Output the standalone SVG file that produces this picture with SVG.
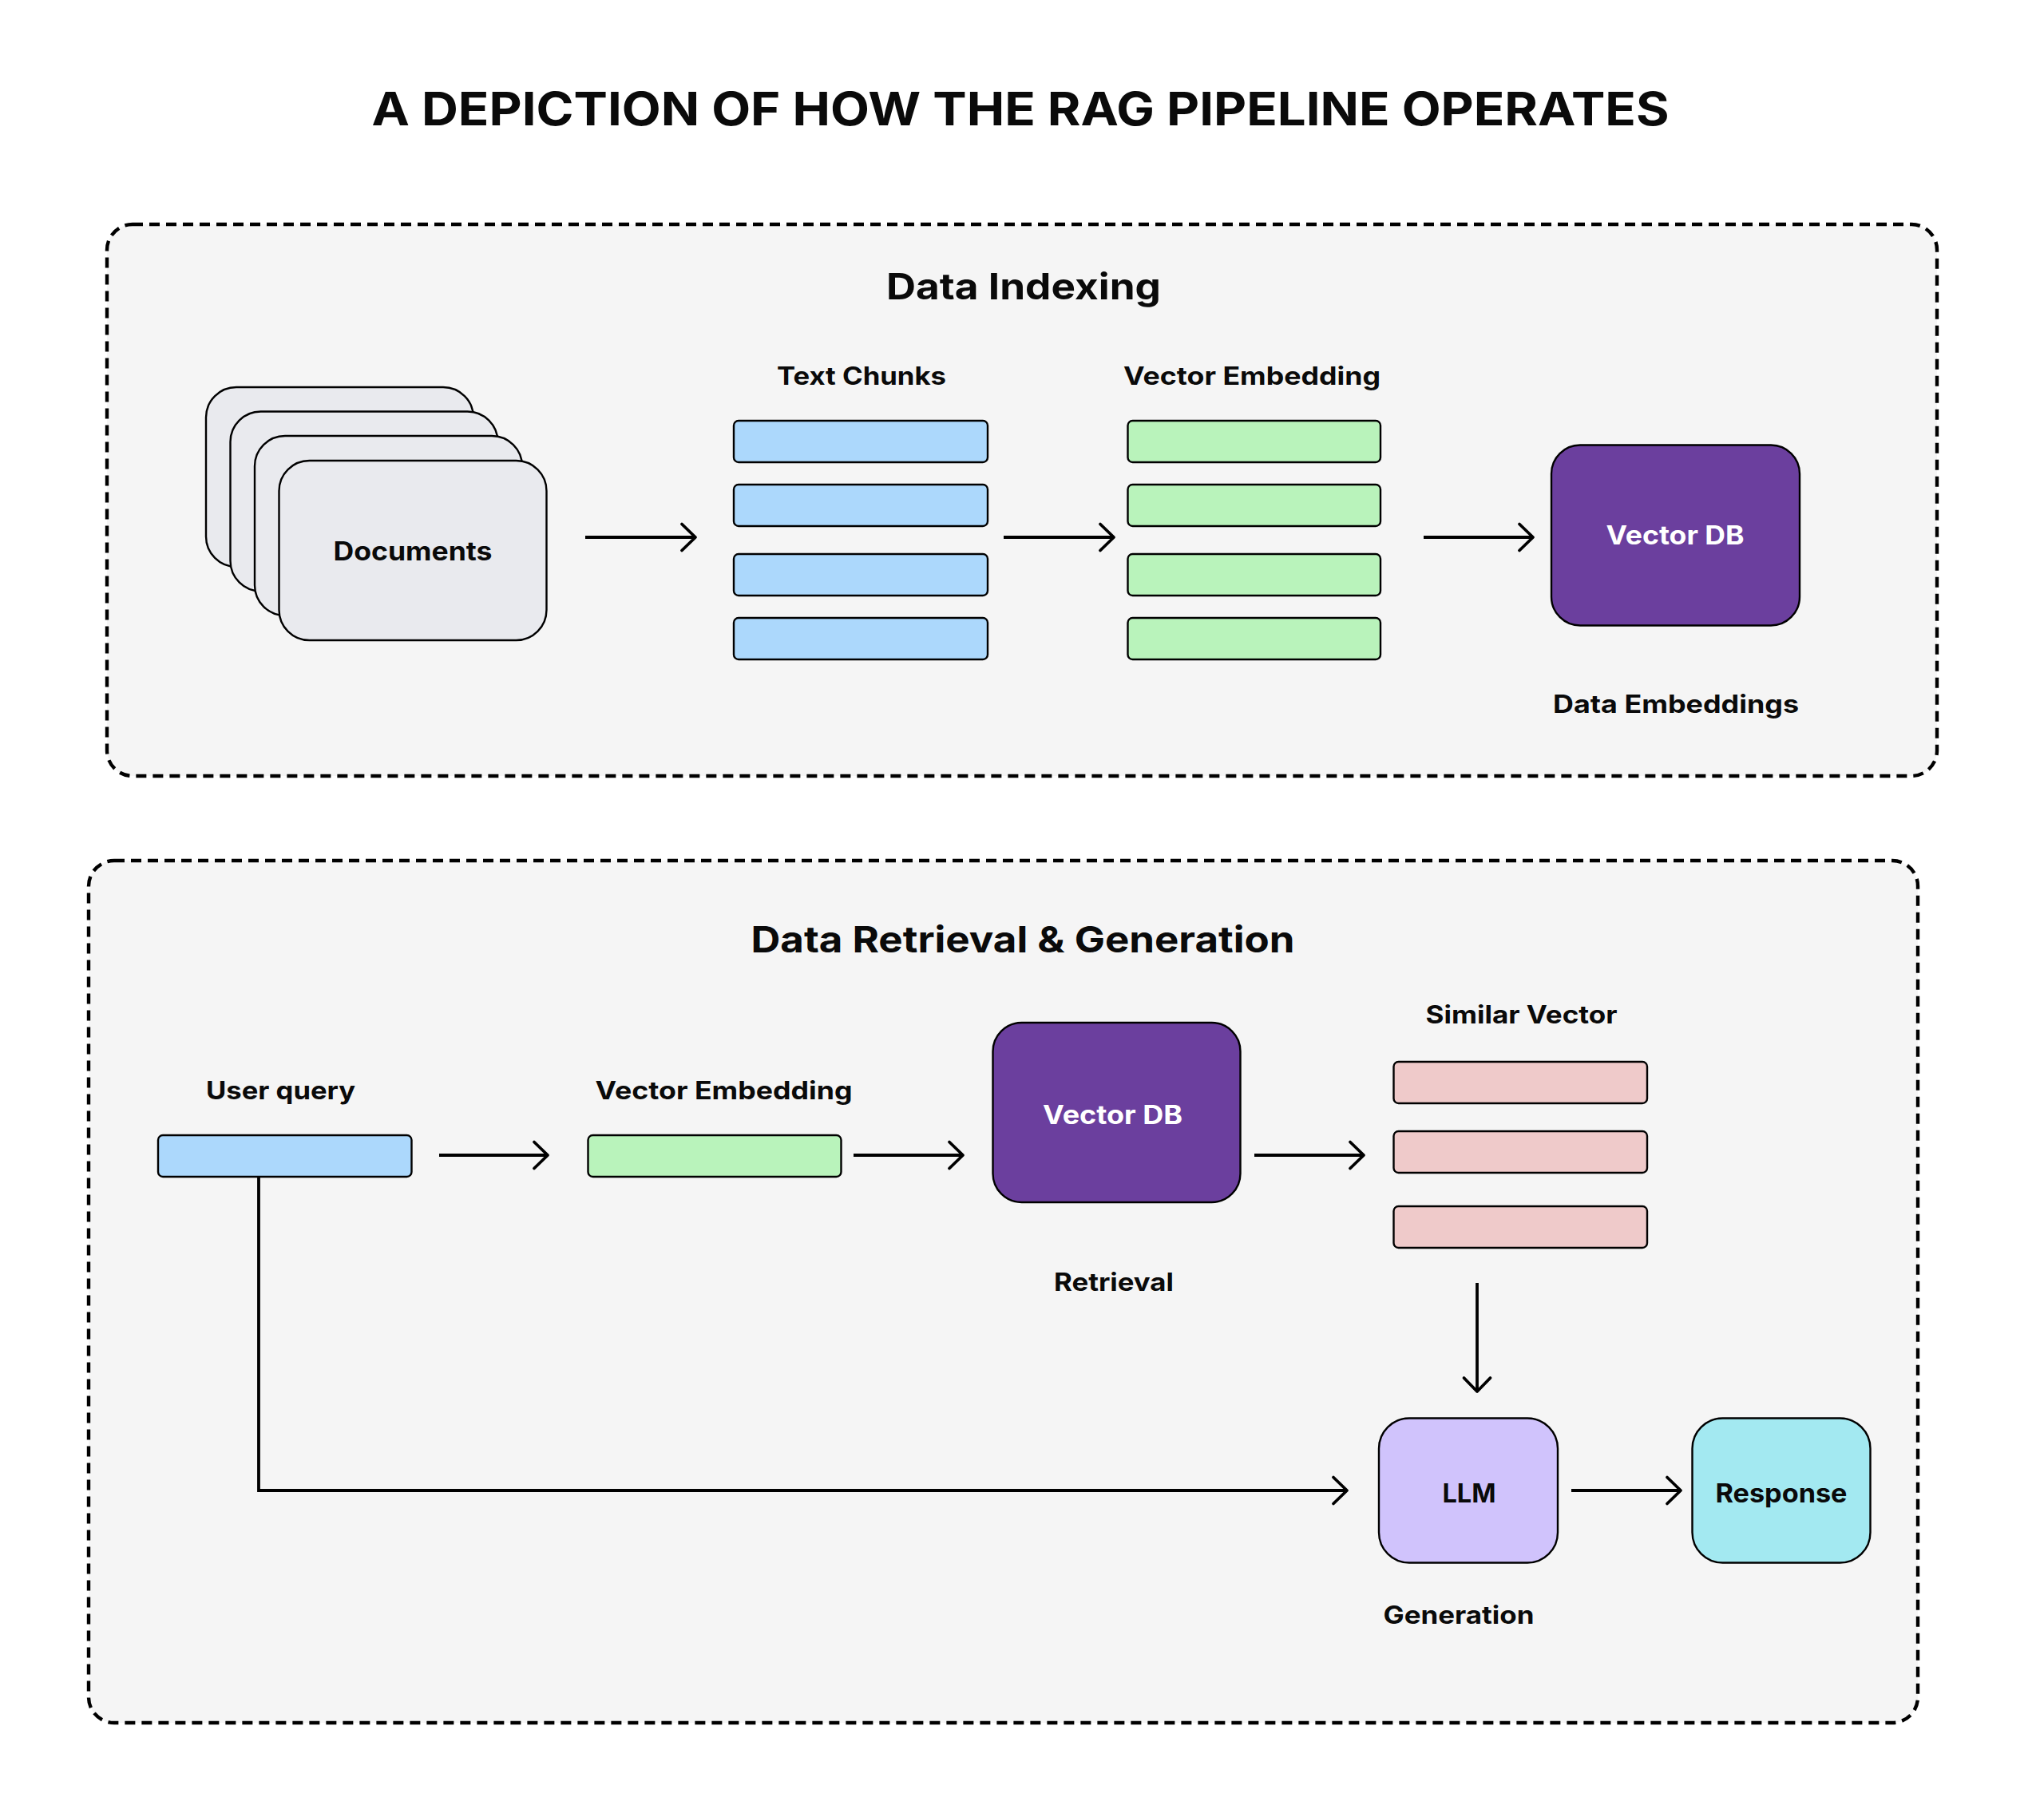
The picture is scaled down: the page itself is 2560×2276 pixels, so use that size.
<svg xmlns="http://www.w3.org/2000/svg" width="2560" height="2276" viewBox="0 0 2560 2276">
  <defs>
    <marker id="arrow" markerUnits="userSpaceOnUse" markerWidth="26" markerHeight="40" refX="20" refY="18" orient="auto" overflow="visible">
      <path d="M3,1.5 L20,18 L3,34.5" fill="none" stroke="#000" stroke-width="3.8" stroke-linecap="round" stroke-linejoin="round"/>
    </marker>
    <style>
      text { font-family: Inter, "Noto Sans", "Liberation Sans", sans-serif; font-weight: 700; fill: #0a0a0a; text-anchor: middle; }
      .title { font-size: 58px; }
      .section { font-size: 45px; }
      .label { font-size: 31px; }
      .inbox { font-size: 32px; }
      .white { fill: #ffffff; }
      .panel { fill: #f5f5f5; stroke: #000; stroke-width: 4.4; stroke-dasharray: 13 8; }
      .node { stroke: #000; stroke-width: 2.4; }
      .doc { fill: #e9eaee; }
      .blue { fill: #acd8fc; }
      .green { fill: #b9f3bb; }
      .pink { fill: #efcaca; }
      .purple { fill: #6b3f9e; }
      .llm { fill: #d0c3fc; }
      .resp { fill: #a3e9f1; }
      .conn { fill: none; stroke: #000; stroke-width: 3.8; marker-end: url(#arrow); }
    </style>
  </defs>

  <rect x="0" y="0" width="2560" height="2276" fill="#ffffff"/>

  <text class="title" x="1278" y="157" textLength="1625" lengthAdjust="spacingAndGlyphs">A DEPICTION OF HOW THE RAG PIPELINE OPERATES</text>

  <!-- Panel 1: Data Indexing -->
  <g id="panel-indexing">
    <rect class="panel" x="134" y="281" width="2292" height="691" rx="32" ry="32"/>
    <text class="section" x="1282" y="375" textLength="344" lengthAdjust="spacingAndGlyphs">Data Indexing</text>
  </g>

  <!-- Panel 2: Data Retrieval & Generation -->
  <g id="panel-retrieval">
    <rect class="panel" x="111" y="1078" width="2291" height="1080" rx="32" ry="32"/>
    <text class="section" x="1281" y="1193" textLength="681" lengthAdjust="spacingAndGlyphs">Data Retrieval &amp; Generation</text>
  </g>

  <!-- Documents stack -->
  <g id="documents">
    <rect class="node doc" x="258" y="485" width="335" height="225" rx="38" ry="38"/>
    <rect class="node doc" x="288.5" y="515.5" width="335" height="225" rx="38" ry="38"/>
    <rect class="node doc" x="319" y="546" width="335" height="225" rx="38" ry="38"/>
    <rect class="node doc" x="349.5" y="577" width="335" height="225" rx="38" ry="38"/>
    <text class="inbox" x="517" y="702" textLength="199" lengthAdjust="spacingAndGlyphs">Documents</text>
  </g>

  <!-- Text Chunks -->
  <g id="text-chunks">
    <text class="label" x="1079" y="481.5" textLength="212" lengthAdjust="spacingAndGlyphs">Text Chunks</text>
    <rect class="node blue" x="919" y="527" width="318" height="52" rx="6" ry="6"/>
    <rect class="node blue" x="919" y="607" width="318" height="52" rx="6" ry="6"/>
    <rect class="node blue" x="919" y="694" width="318" height="52" rx="6" ry="6"/>
    <rect class="node blue" x="919" y="774" width="318" height="52" rx="6" ry="6"/>
  </g>

  <!-- Vector Embedding (indexing) -->
  <g id="vector-embedding-1">
    <text class="label" x="1568" y="481.5" textLength="322" lengthAdjust="spacingAndGlyphs">Vector Embedding</text>
    <rect class="node green" x="1412.5" y="527" width="316.5" height="52" rx="6" ry="6"/>
    <rect class="node green" x="1412.5" y="607" width="316.5" height="52" rx="6" ry="6"/>
    <rect class="node green" x="1412.5" y="694" width="316.5" height="52" rx="6" ry="6"/>
    <rect class="node green" x="1412.5" y="774" width="316.5" height="52" rx="6" ry="6"/>
  </g>

  <!-- Vector DB (indexing) -->
  <g id="vector-db-1">
    <rect class="node purple" x="1943" y="557.5" width="311" height="226" rx="36" ry="36"/>
    <text class="inbox white" x="2098" y="681.5" textLength="173" lengthAdjust="spacingAndGlyphs">Vector DB</text>
    <text class="label" x="2099" y="892.5" textLength="308" lengthAdjust="spacingAndGlyphs">Data Embeddings</text>
  </g>

  <!-- User query -->
  <g id="user-query">
    <text class="label" x="351.5" y="1376.5" textLength="187" lengthAdjust="spacingAndGlyphs">User query</text>
    <rect class="node blue" x="198" y="1422" width="317.5" height="52" rx="6" ry="6"/>
  </g>

  <!-- Vector Embedding (retrieval) -->
  <g id="vector-embedding-2">
    <text class="label" x="906.5" y="1376.5" textLength="322" lengthAdjust="spacingAndGlyphs">Vector Embedding</text>
    <rect class="node green" x="736.5" y="1422" width="317" height="52" rx="6" ry="6"/>
  </g>

  <!-- Vector DB (retrieval) -->
  <g id="vector-db-2">
    <rect class="node purple" x="1243.5" y="1281" width="310" height="225" rx="36" ry="36"/>
    <text class="inbox white" x="1393.5" y="1408" textLength="175" lengthAdjust="spacingAndGlyphs">Vector DB</text>
    <text class="label" x="1395" y="1617" textLength="150" lengthAdjust="spacingAndGlyphs">Retrieval</text>
  </g>

  <!-- Similar Vector -->
  <g id="similar-vector">
    <text class="label" x="1905.5" y="1282" textLength="240" lengthAdjust="spacingAndGlyphs">Similar Vector</text>
    <rect class="node pink" x="1745.5" y="1330" width="317.5" height="52" rx="6" ry="6"/>
    <rect class="node pink" x="1745.5" y="1417" width="317.5" height="52" rx="6" ry="6"/>
    <rect class="node pink" x="1745.5" y="1511" width="317.5" height="52" rx="6" ry="6"/>
  </g>

  <!-- LLM -->
  <g id="llm">
    <rect class="node llm" x="1727" y="1776.5" width="224" height="181" rx="38" ry="38"/>
    <text class="inbox" x="1840" y="1881.5" textLength="67" lengthAdjust="spacingAndGlyphs">LLM</text>
    <text class="label" x="1827" y="2033.5" textLength="189" lengthAdjust="spacingAndGlyphs">Generation</text>
  </g>

  <!-- Response -->
  <g id="response">
    <rect class="node resp" x="2119.5" y="1776.5" width="223" height="181" rx="38" ry="38"/>
    <text class="inbox" x="2231" y="1881.5" textLength="165" lengthAdjust="spacingAndGlyphs">Response</text>
  </g>

  <!-- Connectors -->
  <g id="connectors">
    <path class="conn" d="M733,673 H871"/>
    <path class="conn" d="M1257,673 H1395"/>
    <path class="conn" d="M1783,673 H1920"/>
    <path class="conn" d="M550,1447 H686"/>
    <path class="conn" d="M1069,1447 H1206"/>
    <path class="conn" d="M1571,1447 H1708"/>
    <path class="conn" d="M1850,1607 V1743"/>
    <path class="conn" d="M324,1474 V1867 H1687"/>
    <path class="conn" d="M1968,1867 H2105"/>
  </g>
</svg>
